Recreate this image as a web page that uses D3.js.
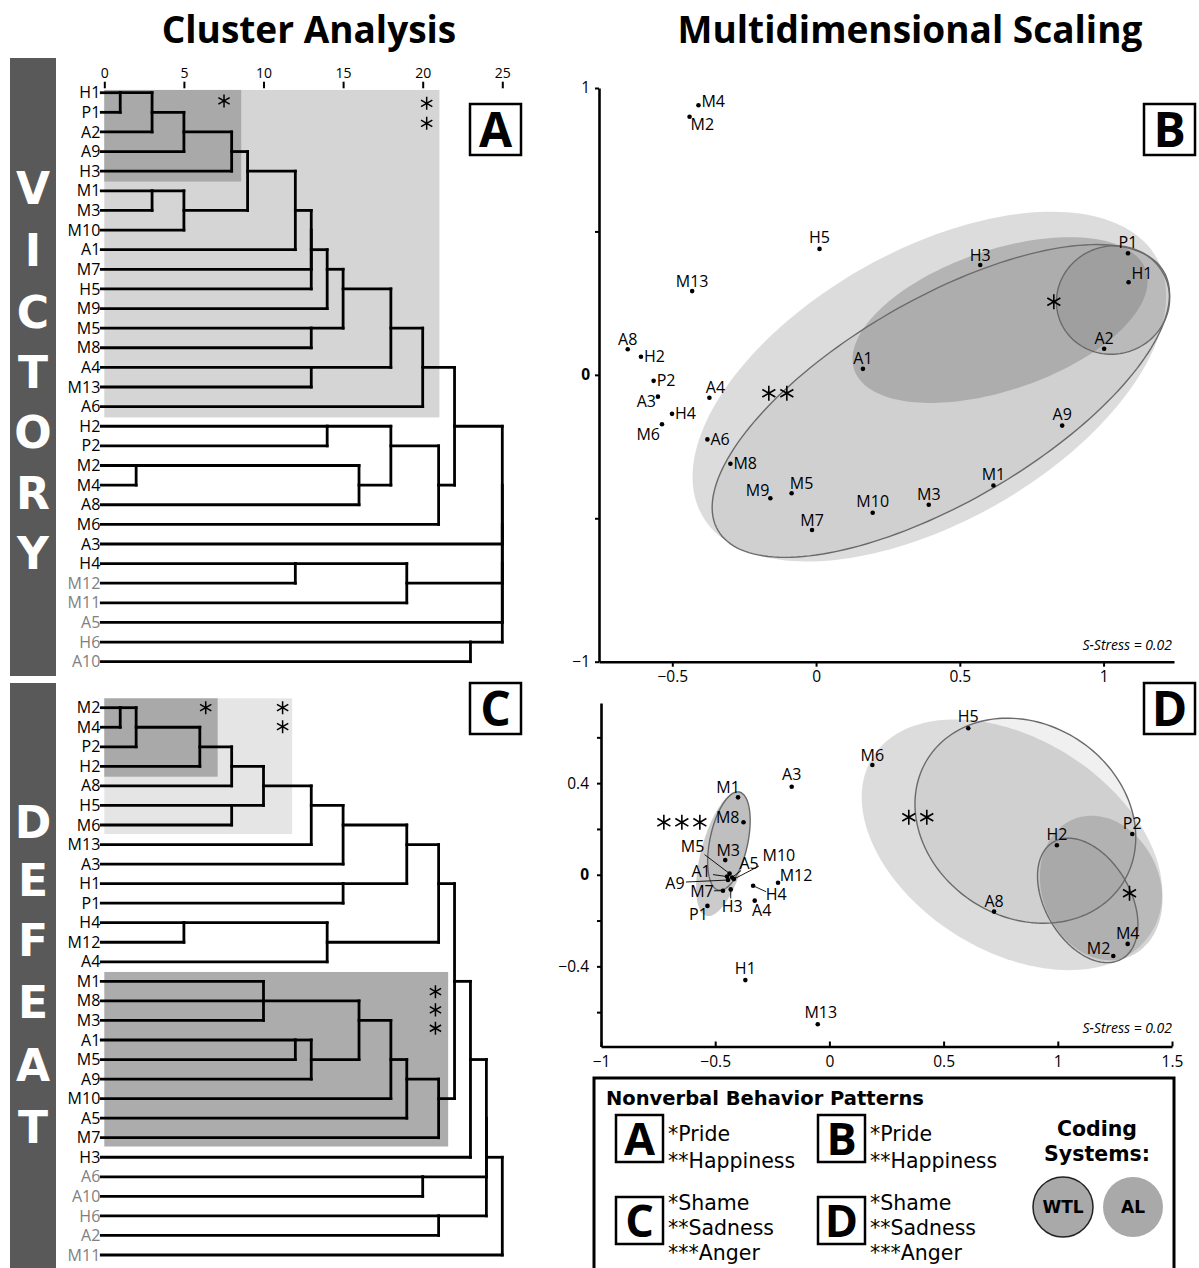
<!DOCTYPE html>
<html><head><meta charset="utf-8">
<script src="https://cdn.jsdelivr.net/npm/d3@7"></script>
<style>body{margin:0;background:#fff}svg{display:block}</style>
</head><body>
<svg id="chart" width="1199" height="1268"></svg>
<script>
// ---------------- DATA ----------------
const distanceTicks = [0, 5, 10, 15, 20, 25];

const victoryLeaves = ["H1","P1","A2","A9","H3","M1","M3","M10","A1","M7","H5","M9","M5","M8","A4","M13","A6","H2","P2","M2","M4","A8","M6","A3","H4","M12","M11","A5","H6","A10"];
const victoryGrayLeaves = ["M12","M11","A5","H6","A10"];
// [cluster a, cluster b, rescaled distance]; "#k" = k-th merge
const victoryMerges = [
  ["H1","P1",1],["#0","A2",3],["#1","A9",5],["#2","H3",8],["M1","M3",3],["#4","M10",5],
  ["#3","#5",9],["#6","A1",12],["#7","M7",13],["#8","H5",13],["#9","M9",14],["M5","M8",13],
  ["#10","#11",15],["A4","M13",13],["#12","#13",18],["#14","A6",20],["M2","M4",2],["#16","A8",16],
  ["H2","P2",14],["#18","#17",18],["#19","M6",21],["#15","#20",22],["H4","M12",12],["#22","M11",19],
  ["H6","A10",23],["#21","A3",25],["#25","#23",25],["#26","A5",25],["#27","#24",25]
];

const defeatLeaves = ["M2","M4","P2","H2","A8","H5","M6","M13","A3","H1","P1","H4","M12","A4","M1","M8","M3","A1","M5","A9","M10","A5","M7","H3","A6","A10","H6","A2","M11"];
const defeatGrayLeaves = ["A6","A10","H6","A2","M11"];
const defeatMerges = [
  ["M2","M4",1],["#0","P2",2],["#1","H2",6],["#2","A8",8],["H5","M6",8],["#3","#4",10],
  ["#5","M13",13],["#6","A3",15],["H1","P1",15],["#7","#8",19],["H4","M12",5],["#10","A4",14],
  ["#9","#11",21],["M1","M3",10],["#13","M8",10],["A1","M5",12],["#15","A9",13],["#14","#16",16],
  ["#17","M10",18],["#18","A5",19],["#19","M7",21],["#12","#20",22],["#21","H3",23],
  ["A6","A10",20],["H6","A2",21],["#22","#23",24],["#25","#24",24],["#26","M11",25]
];

// shaded groupings: [distance from, distance to, row from, row to, level]
const victoryGroups = [[0,21.05,-0.14,16.55,"happy"],[0,8.6,-0.14,4.53,"pride"]];
const defeatGroups  = [[0,11.8,-0.48,6.46,"sad"],[0,7.12,-0.48,3.53,"shame"],[0,21.6,13.52,22.45,"anger"]];
// asterisks: [distance, row]
const victoryDendroStars = [[7.52,0.42],[20.25,0.54],[20.25,1.56]];
const defeatDendroStars  = [[6.37,0],[11.2,0],[11.2,0.97],[20.8,14.53],[20.8,15.46],[20.8,16.4]];

// MDS coordinates [label, dim1, dim2]
const victoryMDS = [
  ["M4",-0.409,0.94],["M2",-0.44,0.90],["H5",0.012,0.439],["M13",-0.431,0.292],["H3",0.571,0.383],
  ["P1",1.085,0.424],["H1",1.087,0.323],["A2",1.002,0.091],["A8",-0.655,0.089],["H2",-0.609,0.063],
  ["A1",0.163,0.021],["P2",-0.565,-0.021],["A3",-0.55,-0.076],["A4",-0.371,-0.08],["H4",-0.501,-0.136],
  ["M6",-0.536,-0.172],["A6",-0.378,-0.225],["M8",-0.298,-0.31],["M9",-0.159,-0.43],["M5",-0.085,-0.413],
  ["M7",-0.014,-0.541],["M10",0.197,-0.481],["M3",0.392,-0.453],["M1",0.617,-0.386],["A9",0.856,-0.177]
];
const defeatMDS = [
  ["H5",0.608,0.64],["M6",0.188,0.479],["A3",-0.165,0.384],["M1",-0.40,0.338],["M8",-0.376,0.229],
  ["M3",-0.456,0.064],["M5",-0.437,0.005],["A1",-0.448,-0.008],["A9",-0.444,-0.023],["A5",-0.426,-0.012],
  ["M10",-0.418,-0.019],["M12",-0.225,-0.035],["H4",-0.334,-0.048],["A4",-0.327,-0.113],["H3",-0.432,-0.064],
  ["M7",-0.466,-0.07],["P1",-0.534,-0.136],["H1",-0.368,-0.46],["M13",-0.051,-0.653],["A8",0.721,-0.161],
  ["H2",0.996,0.129],["P2",1.326,0.178],["M4",1.306,-0.302],["M2",1.243,-0.355]
];
// ellipses [system, cx, cy, semi-major, semi-minor, angle(deg)]
const victoryEllipses = [
  ["AL",0.394,-0.041,0.909,0.473,29.7],
  ["WTL",0.434,-0.091,0.897,0.354,30.2],
  ["AL",0.64,0.191,0.536,0.244,18.9],
  ["WTL",1.033,0.261,0.198,0.188,20]
];
const defeatEllipses = [
  ["AL",0.7995,0.131,0.72,0.463,-32],
  ["WTL",0.858,0.236,0.506,0.422,-32.4],
  ["AL",1.19,-0.058,0.324,0.258,-68],
  ["WTL",1.131,-0.112,0.296,0.186,-59.4],
  ["AL",-0.466,0.091,0.28,0.096,75],
  ["WTL",-0.44,0.147,0.219,0.083,78]
];
// pattern centroid asterisks [dim1, dim2, count]
const victoryMDSStars = [[0.827,0.255,1],[-0.133,-0.064,2]];
const defeatMDSStars  = [[0.387,0.251,2],[1.314,-0.081,1],[-0.646,0.229,3]];

const bTicksX = [-0.5,0,0.5,1], bTicksY = [1,0.5,0,-0.5,-1], bLabelsY = [1,0,-1];
const dTicksX = [-1,-0.5,0,0.5,1,1.5], dTicksY = [0.6,0.4,0.2,0,-0.2,-0.4,-0.6], dLabelsY = [0.4,0,-0.4];

// ---------------- STYLE / LAYOUT ----------------
const F = "'Open Sans','Noto Sans',sans-serif";
const FV = "'DejaVu Sans',Verdana,sans-serif";
const groupFill = {happy:"#d5d5d5", pride:"#a9a9a9", sad:"#e5e5e5", shame:"#a9a9a9", anger:"#acacac"};
// label placement: [anchor, dx, dy, leaderX, leaderY]
const victoryLabelPos = {
  M4:["start",3,-4],M2:["start",1,8],H5:["middle",0,-12],M13:["middle",0,-10],H3:["middle",0,-10],
  P1:["middle",0,-11],H1:["start",3,-9],A2:["middle",0,-10],A8:["middle",0,-10],H2:["start",3,0],
  A1:["middle",0,-10],P2:["start",3,0],A3:["end",-2,5],A4:["middle",6,-10],H4:["start",3,0],
  M6:["end",-2,10],A6:["start",3,0],M8:["start",3,0],M9:["end",-1,-8],M5:["middle",10,-10],
  M7:["middle",0,-10],M10:["middle",0,-11],M3:["middle",0,-10],M1:["middle",0,-11],A9:["middle",0,-11]
};
const defeatLabelPos = {
  H5:["middle",0,-12],M6:["middle",0,-10],A3:["middle",0,-12],M1:["middle",-10,-10],M8:["end",-4,-5],
  M3:["middle",3,-10],M5:["middle",-37,-27,-25,-19],A5:["middle",17,-14,9,-7],M10:["middle",45,-24,25,-13],
  A1:["middle",-26,-5,-14,-2],A9:["middle",-53,3,-42,2],M12:["middle",18,-7],H4:["middle",23,9,13,6],
  A4:["middle",7,10],H3:["middle",1.5,17,0,9],M7:["middle",-21,1,-9,0],P1:["middle",-9,9],
  H1:["middle",0,-12],M13:["middle",3,-12],A8:["middle",0,-10],H2:["middle",0,-11],P2:["middle",0,-11],
  M4:["middle",0,-11],M2:["end",-3,-8]
};

const svg = d3.select("#chart");

// titles
svg.append("text").attr("x",309).attr("y",43).attr("text-anchor","middle")
  .attr("font-family",F).attr("font-weight",700).attr("font-size",37).text("Cluster Analysis");
svg.append("text").attr("x",910).attr("y",43).attr("text-anchor","middle")
  .attr("font-family",F).attr("font-weight",700).attr("font-size",37).text("Multidimensional Scaling");

// side bars
function sideBar(y0, y1, word, ys) {
  svg.append("rect").attr("x",10).attr("y",y0).attr("width",46).attr("height",y1-y0).attr("fill","#595959");
  word.split("").forEach((ch,i)=>{
    svg.append("text").attr("x",33).attr("y",ys[i]+16).attr("text-anchor","middle")
      .attr("font-family",FV).attr("font-weight",700).attr("font-size",44).attr("fill","#fff").text(ch);
  });
}
sideBar(58, 676, "VICTORY", [188,250,312,372,432,493,553]);
sideBar(683, 1268, "DEFEAT", [822,880,940,1002,1065,1127]);

// ---------------- DENDROGRAMS ----------------
const xDist = d3.scaleLinear().domain([0,25]).range([104.3,502.3]);
const yVic = d3.scaleLinear().domain([0,victoryLeaves.length-1]).range([92.7,661.7]);
const yDef = d3.scaleLinear().domain([0,defeatLeaves.length-1]).range([707.7,1255]);

function star(g, x, y, r, sw) {
  g.append("path").attr("transform",`translate(${x},${y})`)
    .attr("d", d3.symbol(d3.symbolAsterisk, Math.pow(r/0.59436,2)))
    .attr("stroke","#000").attr("stroke-width",sw).attr("fill","none");
}

function dendrogram(leaves, gray, merges, yS, groups, stars) {
  const g = svg.append("g");
  groups.forEach(b=>{
    g.append("rect").attr("x",xDist(b[0])).attr("y",yS(b[2]))
      .attr("width",xDist(b[1])-xDist(b[0])).attr("height",yS(b[3])-yS(b[2]))
      .attr("fill",groupFill[b[4]]);
  });
  stars.forEach(s=>star(g, xDist(s[0]), yS(s[1]), 6.5, 1.5));
  const info = {};
  leaves.forEach((l,i)=>info[l]={row:i,h:0});
  const segs = [];
  merges.forEach((m,k)=>{
    const a = info[m[0]], b = info[m[1]], h = m[2];
    [a,b].forEach(c=>{
      const x0 = c.h===0 ? xDist(0)-3 : xDist(c.h);
      if (xDist(h) > x0) segs.push([x0, yS(c.row), xDist(h), yS(c.row)]);
    });
    if (a.row!==b.row) segs.push([xDist(h), yS(a.row), xDist(h), yS(b.row)]);
    info["#"+k] = {row:Math.floor((a.row+b.row)/2), h:h};
  });
  g.selectAll("line.seg").data(segs).join("line").attr("class","seg")
    .attr("x1",d=>d[0]).attr("y1",d=>d[1]).attr("x2",d=>d[2]).attr("y2",d=>d[3])
    .attr("stroke","#000").attr("stroke-width",2.8).attr("stroke-linecap","square");
  g.selectAll("text.leaf").data(leaves).join("text").attr("class","leaf")
    .attr("x",xDist(0)-4).attr("y",(d,i)=>yS(i)+5.6).attr("text-anchor","end")
    .attr("font-family",F).attr("font-size",16)
    .attr("fill",d=>gray.includes(d)?"#808080":"#000").text(d=>d);
  return g;
}
dendrogram(victoryLeaves, victoryGrayLeaves, victoryMerges, yVic, victoryGroups, victoryDendroStars);
dendrogram(defeatLeaves, defeatGrayLeaves, defeatMerges, yDef, defeatGroups, defeatDendroStars);

// distance axis (top)
const axT = svg.append("g").attr("transform","translate(0,88.3)")
  .call(d3.axisTop(xDist).tickValues(distanceTicks).tickSize(6.6).tickPadding(4).tickSizeOuter(0));
axT.select(".domain").remove();
axT.selectAll("line").attr("stroke-width",2);
axT.selectAll("text").attr("font-family",F).attr("font-size",14).attr("fill","#000");

// panel letter boxes
function letterBox(x, y, s, L, fs, sw) {
  svg.append("rect").attr("x",x).attr("y",y).attr("width",s).attr("height",s)
    .attr("fill","#fff").attr("stroke","#000").attr("stroke-width",sw);
  svg.append("text").attr("x",x+s/2).attr("y",y+s/2+fs*0.36).attr("text-anchor","middle")
    .attr("font-family",F).attr("font-weight",700).attr("font-size",fs).text(L);
}
letterBox(470,104,51,"A",48,2.5);
letterBox(1144,104,51,"B",48,2.5);
letterBox(470,683,51,"C",48,2.5);
letterBox(1144,683,51,"D",48,2.5);

// ---------------- MDS ----------------
function mds(points, ellipses, stars, xS, yS, labelPos, opts) {
  const g = svg.append("g");
  const line = d3.line().x(d=>xS(d[0])).y(d=>yS(d[1])).curve(d3.curveLinearClosed);
  ellipses.forEach((e,i)=>{
    const [sys,cx,cy,a,b,ang] = e;
    const th = ang*Math.PI/180;
    const pts = d3.range(0,360,2).map(t=>{
      const r = t*Math.PI/180;
      return [cx + a*Math.cos(r)*Math.cos(th) - b*Math.sin(r)*Math.sin(th),
              cy + a*Math.cos(r)*Math.sin(th) + b*Math.sin(r)*Math.cos(th)];
    });
    const p = g.append("path").attr("d",line(pts));
    if (sys==="AL") p.attr("fill","#6e6e6e").attr("fill-opacity",opts.alOp[i]).attr("stroke","none");
    else p.attr("fill","#6e6e6e").attr("fill-opacity",opts.wtlOp[i]).attr("stroke","#6a6a6a").attr("stroke-width",1.4);
  });
  stars.forEach(s=>{
    const n = s[2];
    for (let k=0;k<n;k++) star(g, xS(s[0]) + (k-(n-1)/2)*18, yS(s[1]), 7.5, 1.6);
  });
  points.forEach(p=>{
    const lp = labelPos[p[0]];
    if (lp.length>3) g.append("line").attr("x1",xS(p[1])).attr("y1",yS(p[2]))
      .attr("x2",xS(p[1])+lp[3]).attr("y2",yS(p[2])+lp[4]).attr("stroke","#000").attr("stroke-width",0.9);
  });
  g.selectAll("circle").data(points).join("circle")
    .attr("cx",d=>xS(d[1])).attr("cy",d=>yS(d[2])).attr("r",2.3).attr("fill","#000");
  g.selectAll("text.pl").data(points).join("text").attr("class","pl")
    .attr("x",d=>xS(d[1])+labelPos[d[0]][1]).attr("y",d=>yS(d[2])+labelPos[d[0]][2]+5.6)
    .attr("text-anchor",d=>labelPos[d[0]][0]).attr("font-family",F).attr("font-size",16).text(d=>d[0]);
  return g;
}

// Panel B
const xB = d3.scaleLinear().domain([-0.755,1.245]).range([599,1174]);
const yB = d3.scaleLinear().domain([-1,1]).range([661.7,88]);
mds(victoryMDS, victoryEllipses, victoryMDSStars, xB, yB, victoryLabelPos,
  {alOp:[0.24,0,0.36,0], wtlOp:[0,0.1,0,0.22]});
const axBx = svg.append("g").attr("transform",`translate(0,${yB(-1)})`)
  .call(d3.axisBottom(xB).tickValues(bTicksX).tickFormat(d3.format("")).tickSize(5).tickPadding(4).tickSizeOuter(0));
const axBy = svg.append("g").attr("transform",`translate(${xB.range()[0]},0)`)
  .call(d3.axisLeft(yB).tickValues(bTicksY).tickFormat(d=>bLabelsY.includes(d)?d3.format("")(d):"").tickSize(4).tickPadding(5).tickSizeOuter(0));

// Panel D
const xD = d3.scaleLinear().domain([-1,1.5]).range([601,1172]);
const yD = d3.scaleLinear().domain([-0.75,0.75]).range([1046.5,703]);
mds(defeatMDS, defeatEllipses, defeatMDSStars, xD, yD, defeatLabelPos,
  {alOp:[0.24,0,0.3,0,0.36,0], wtlOp:[0,0.1,0,0.12,0,0.12]});
const axDx = svg.append("g").attr("transform",`translate(0,${yD(-0.75)})`)
  .call(d3.axisBottom(xD).tickValues(dTicksX).tickFormat(d3.format("")).tickSize(-5).tickPadding(9).tickSizeOuter(0));
const axDy = svg.append("g").attr("transform",`translate(${xD(-1)},0)`)
  .call(d3.axisLeft(yD).tickValues(dTicksY).tickFormat(d=>dLabelsY.includes(d)?d3.format("")(d):"").tickSize(4).tickPadding(8).tickSizeOuter(0));

[axBx,axBy,axDx,axDy].forEach(a=>{
  a.select(".domain").attr("stroke-width",2.6).attr("stroke","#000");
  a.selectAll(".tick line").attr("stroke-width",2).attr("stroke","#000");
  a.selectAll("text").attr("font-family",F).attr("font-size",15.5).attr("fill","#000");
});
[axBy,axDy].forEach(a=>a.selectAll(".tick text").filter(d=>d===0).attr("font-weight",700));

svg.append("text").attr("x",1172).attr("y",650).attr("text-anchor","end")
  .attr("font-family",F).attr("font-style","italic").attr("font-size",14).text("S-Stress = 0.02");
svg.append("text").attr("x",1172).attr("y",1033).attr("text-anchor","end")
  .attr("font-family",F).attr("font-style","italic").attr("font-size",14).text("S-Stress = 0.02");

// ---------------- LEGEND ----------------
svg.append("rect").attr("x",594).attr("y",1078).attr("width",580).attr("height",210)
  .attr("fill","#fff").attr("stroke","#000").attr("stroke-width",3);
svg.append("text").attr("x",606).attr("y",1105).attr("font-family",FV).attr("font-weight",700)
  .attr("font-size",19.5).text("Nonverbal Behavior Patterns");
const legendPatterns = [
  ["A",616,1115,["*Pride","**Happiness"]],
  ["B",818,1115,["*Pride","**Happiness"]],
  ["C",616,1197,["*Shame","**Sadness","***Anger"]],
  ["D",818,1197,["*Shame","**Sadness","***Anger"]]
];
legendPatterns.forEach(p=>{
  letterBox(p[1],p[2],47,p[0],45,2.5);
  const ys = p[3].length===2 ? [1133,1160] : [1202,1227,1252];
  p[3].forEach((t,i)=>svg.append("text").attr("x",p[1]+52).attr("y",ys[i]+7.5)
    .attr("font-family",FV).attr("font-size",20.5).text(t));
});
svg.append("text").attr("x",1097).attr("y",1136).attr("text-anchor","middle")
  .attr("font-family",FV).attr("font-weight",700).attr("font-size",20.5).text("Coding");
svg.append("text").attr("x",1097).attr("y",1161).attr("text-anchor","middle")
  .attr("font-family",FV).attr("font-weight",700).attr("font-size",20.5).text("Systems:");
svg.append("circle").attr("cx",1063).attr("cy",1207).attr("r",30).attr("fill","#a9a9a9").attr("stroke","#222").attr("stroke-width",1.5);
svg.append("circle").attr("cx",1133).attr("cy",1207).attr("r",30).attr("fill","#a9a9a9");
svg.append("text").attr("x",1063).attr("y",1213).attr("text-anchor","middle")
  .attr("font-family",FV).attr("font-weight",700).attr("font-size",17).text("WTL");
svg.append("text").attr("x",1133).attr("y",1213).attr("text-anchor","middle")
  .attr("font-family",FV).attr("font-weight",700).attr("font-size",17).text("AL");
</script>
</body></html>
